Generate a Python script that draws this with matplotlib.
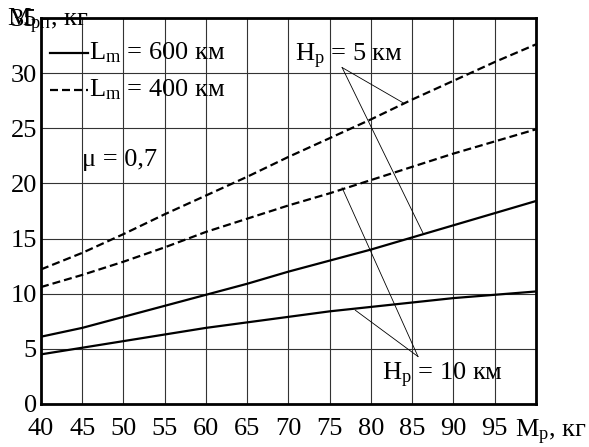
import matplotlib
matplotlib.use("Agg")
import matplotlib.pyplot as plt

plt.rcParams['font.family'] = ['Liberation Serif', 'DejaVu Serif']
plt.rcParams['mathtext.fontset'] = 'custom'
plt.rcParams['mathtext.rm'] = 'Liberation Serif'
plt.rcParams['mathtext.it'] = 'Liberation Serif'

# Mp, kg
m_p = [40, 45, 50, 55, 60, 65, 70, 75, 80, 85, 90, 95, 100]
# Lm = 400 km (dashed)
l400_h5 = [12.2, 13.7, 15.4, 17.2, 18.9, 20.6, 22.4, 24.1, 25.8, 27.6, 29.3, 31.0, 32.6]
l400_h10 = [10.6, 11.7, 12.9, 14.2, 15.6, 16.8, 18.0, 19.1, 20.3, 21.5, 22.7, 23.8, 24.9]
# Lm = 600 km (solid)
l600_h5 = [6.1, 6.9, 7.9, 8.9, 9.9, 10.9, 12.0, 13.0, 14.0, 15.1, 16.2, 17.3, 18.4]
l600_h10 = [4.5, 5.1, 5.7, 6.3, 6.9, 7.4, 7.9, 8.4, 8.8, 9.2, 9.6, 9.9, 10.2]

x_ticks = [40, 45, 50, 55, 60, 65, 70, 75, 80, 85, 90, 95, 100]
x_labels = ['40', '45', '50', '55', '60', '65', '70', '75', '80', '85', '90', '95', '']
y_ticks = [0, 5, 10, 15, 20, 25, 30, 35]

fs = 19

fig = plt.figure(figsize=(5.89, 4.47), dpi=100)
ax = fig.add_axes([0.0696, 0.0962, 0.8404, 0.8638])

dash = (3.6, 1.8)
ax.plot(m_p, l400_h5, color='black', lw=1.6, dashes=dash)
ax.plot(m_p, l400_h10, color='black', lw=1.6, dashes=dash)
ax.plot(m_p, l600_h5, color='black', lw=1.6)
ax.plot(m_p, l600_h10, color='black', lw=1.6)

ax.set_xticks(x_ticks)
ax.set_xticklabels(x_labels)
ax.set_yticks(y_ticks)
ax.set_xlim(40, 100)
ax.set_ylim(0, 35)
ax.grid(True, color='#333333', lw=0.8)
ax.tick_params(length=0, labelsize=fs)
ax.tick_params(axis='x', pad=10)
ax.tick_params(axis='y', pad=3)
for s in ax.spines.values():
    s.set_linewidth(2)

# axis titles
fig.text(0.012, 0.953, r'$\mathregular{M_{рп}}$, кг', fontsize=fs, va='center', ha='left')
ax.annotate(r'$\mathregular{M_р}$, кг', xy=(100, 0), xytext=(11, -10),
            textcoords='offset points', fontsize=fs, ha='center', va='top',
            annotation_clip=False)

# legend
ax.plot([41.1, 45.7], [31.8, 31.8], color='black', lw=1.6, clip_on=False)
ax.plot([41.1, 45.7], [28.5, 28.5], color='black', lw=1.6, dashes=dash, clip_on=False)
ax.text(45.8, 31.8, r'$\mathregular{L_m}$ = 600 км', fontsize=fs, va='center', ha='left')
ax.text(45.8, 28.5, r'$\mathregular{L_m}$ = 400 км', fontsize=fs, va='center', ha='left')
ax.text(45.0, 22.1, 'μ = 0,7', fontsize=fs, va='center', ha='left')

# Hp labels with leaders
ax.text(70.8, 31.5, r'$\mathregular{H_p}$ = 5 км', fontsize=fs, va='center', ha='left')
ax.plot([76.5, 83.9], [30.5, 27.3], color='black', lw=0.6)
ax.plot([76.5, 86.3], [30.5, 15.5], color='black', lw=0.6)
ax.text(81.3, 2.6, r'$\mathregular{H_p}$ = 10 км', fontsize=fs, va='center', ha='left')
ax.plot([85.7, 76.5], [4.3, 19.6], color='black', lw=0.6)
ax.plot([85.7, 78.1], [4.3, 8.5], color='black', lw=0.6)

fig.savefig('out.png', dpi=100)
